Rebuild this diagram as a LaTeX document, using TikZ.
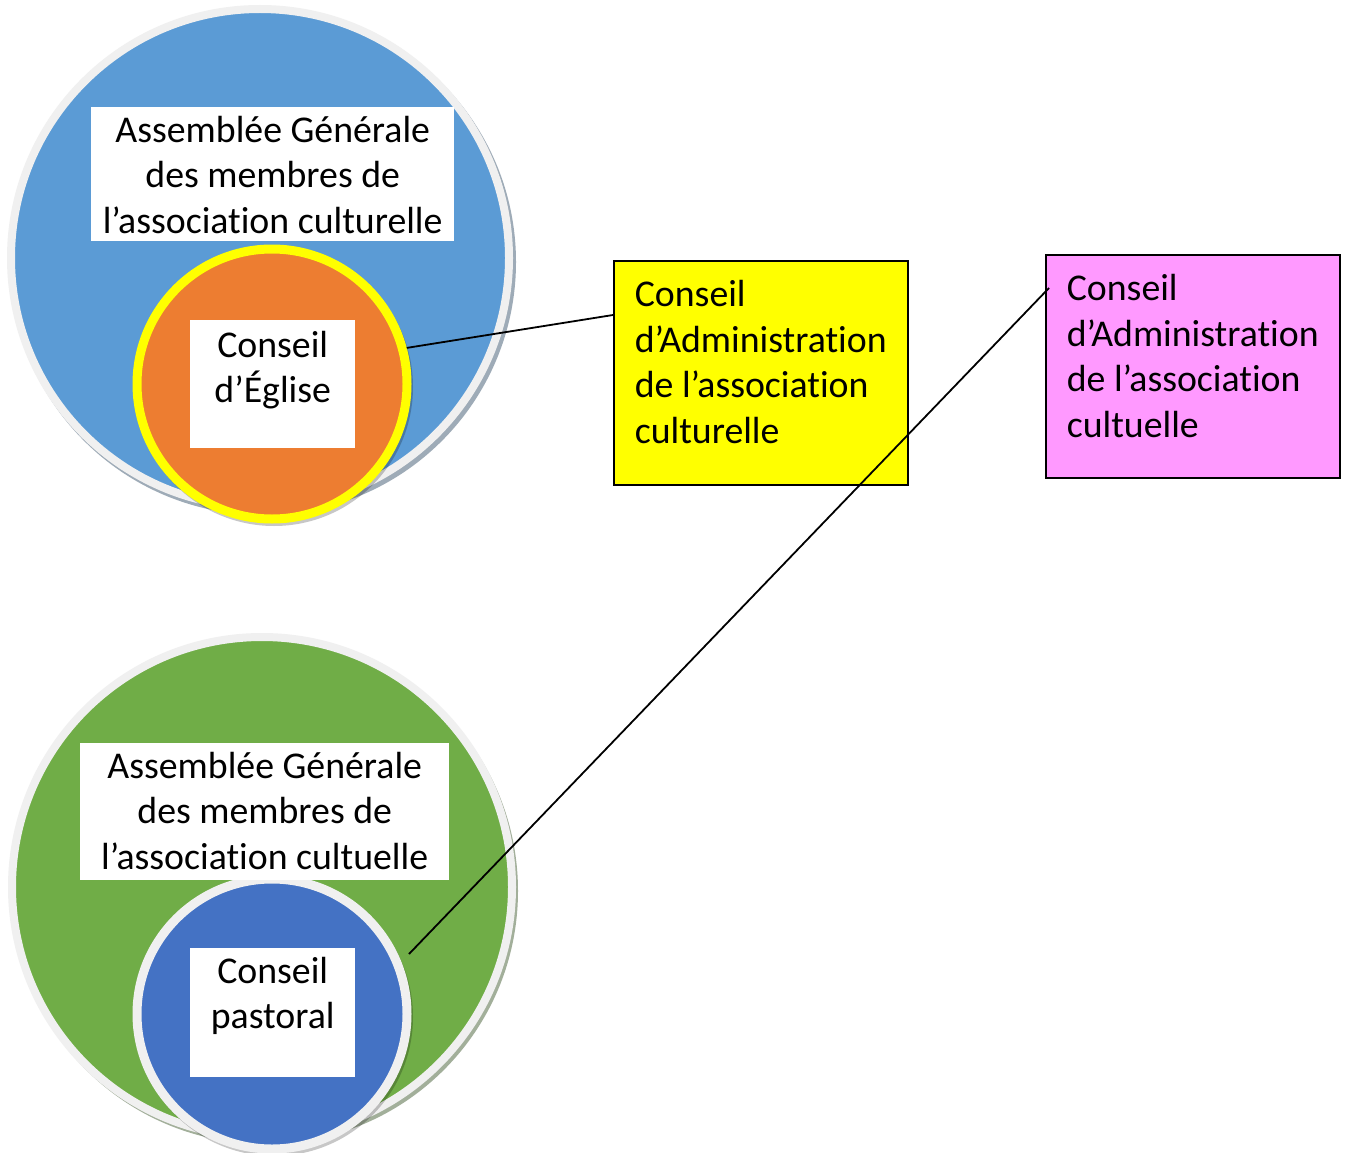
\documentclass[tikz,border=0pt]{standalone}
\usepackage{fontspec}
\setmainfont[Ligatures=NoCommon]{Carlito}
\definecolor{bigblue}{HTML}{5B9BD5}
\definecolor{orangec}{HTML}{ED7D31}
\definecolor{yellowc}{HTML}{FFFF00}
\definecolor{greenc}{HTML}{70AD47}
\definecolor{innerblue}{HTML}{4472C4}
\definecolor{pinkc}{HTML}{FF99FF}
\definecolor{ringc}{HTML}{F0F0F0}
\newcommand{\tbox}[5]{\parbox[t][#2][t]{#1}{#4\rule{0pt}{#3}#5}}
\tikzset{
  disc/.style={circle, inner sep=0pt, line width=8pt},
  whitebox/.style={fill=white, inner sep=0pt, anchor=north west,
    font=\fontsize{37.8pt}{45.5pt}\selectfont},
  cabox/.style={draw=black, line width=1.6pt, inner sep=0pt, anchor=north west,
    font=\fontsize{37.8pt}{45.5pt}\selectfont},
  link/.style={draw=black, line width=1.8pt}
}
\begin{document}
\begin{tikzpicture}[x=1pt,y=-1pt]
\fill[white] (0,0) rectangle (1349,1153);
\useasboundingbox (0,0) rectangle (1349,1153);
% shadows
\fill[bigblue!45!black, opacity=0.45] (263,262) circle[radius=253pt];
\fill[greenc!45!black, opacity=0.45] (265,891) circle[radius=253pt];
% big circles
\node[disc, draw=ringc, fill=bigblue, minimum size=498pt] (ag1) at (260,258) {};
\node[disc, draw=ringc, fill=greenc, minimum size=500pt] (ag2) at (262,887) {};
% inner shadows
\fill[black, opacity=0.22] (274,387) circle[radius=139pt];
\fill[black, opacity=0.22] (274,1017) circle[radius=139pt];
% inner circles
\node[disc, draw=yellowc, line width=9pt, fill=orangec, minimum size=270pt] (ce) at (272,384) {};
\node[disc, draw=ringc, line width=9pt, fill=innerblue, minimum size=270pt] (cp) at (272,1014) {};
% white text boxes
\node[whitebox] (t1) at (91,107) {\tbox{363pt}{134pt}{35pt}{\centering}{Assemblée Générale\\des membres de\\l’association culturelle}};
\node[whitebox] (t2) at (190,320) {\tbox{165pt}{128pt}{37pt}{\centering}{Conseil\\d’Église}};
\node[whitebox] (t3) at (80,743) {\tbox{369pt}{137pt}{35pt}{\centering}{Assemblée Générale\\des membres de\\l’association cultuelle}};
\node[whitebox] (t4) at (190,948) {\tbox{165pt}{129pt}{35pt}{\centering}{Conseil\\pastoral}};
% council boxes
\node[cabox, fill=yellowc] (ya) at (613,260) {\tbox{294pt}{224pt}{46pt}{\raggedright\leftskip=21pt}{Conseil\\d’Administration\\de l’association\\culturelle}};
\node[cabox, fill=pinkc] (pk) at (1045,254) {\tbox{294pt}{223pt}{46pt}{\raggedright\leftskip=21pt}{Conseil\\d’Administration\\de l’association\\cultuelle}};
% connectors
\coordinate (p1) at (409,954);
\coordinate (q1) at ([xshift=4pt,yshift=-34pt]pk.north west);
\draw[link] (ce.15) -- ([yshift=-55pt]ya.north west);
\draw[link] (p1) -- (q1);
\end{tikzpicture}
\end{document}
